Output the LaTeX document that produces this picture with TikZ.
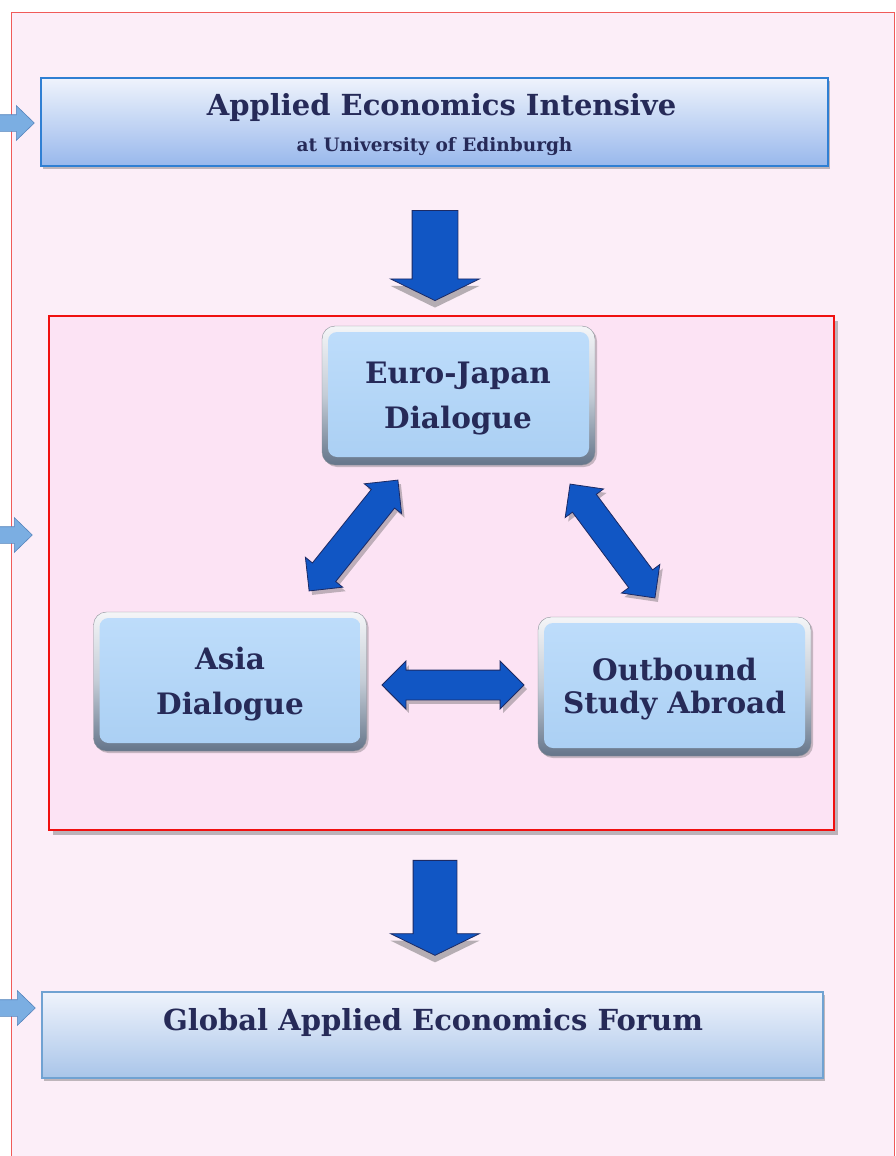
\documentclass[tikz,border=0pt]{standalone}
\usepackage{fontspec}
\setmainfont{DejaVu Serif}
\usetikzlibrary{shapes.arrows,shadows}
\definecolor{outerbg}{HTML}{FCEEF8}
\definecolor{outerln}{HTML}{F05A5A}
\definecolor{innerbg}{HTML}{FCE3F4}
\definecolor{innerln}{HTML}{F01010}
\definecolor{txt}{HTML}{262A58}
\definecolor{abl}{HTML}{1156C4}
\definecolor{adk}{HTML}{1C2A64}
\definecolor{sbl}{HTML}{7BAEE2}
\definecolor{sdk}{HTML}{5584BC}
\definecolor{tboxln}{HTML}{2F7FD3}
\definecolor{gtop}{HTML}{EFF3FC}
\definecolor{gbot}{HTML}{98B8EC}
\definecolor{bboxln}{HTML}{70A2D2}
\definecolor{gbottwo}{HTML}{A9C5E9}
\definecolor{facetop}{HTML}{BEDDFB}
\definecolor{facebot}{HTML}{AACFF3}
\definecolor{bevtop}{HTML}{F4F5F7}
\definecolor{bevmid}{HTML}{C3CCD6}
\definecolor{bevbot}{HTML}{65758A}
\begin{document}
\begin{tikzpicture}[x=1pt,y=-1pt,
  bigtxt/.style={text=txt, font=\bfseries\fontsize{29}{34}\selectfont, anchor=base, inner sep=0pt},
  smalltxt/.style={text=txt, font=\bfseries\fontsize{18.5}{22}\selectfont, anchor=base, inner sep=0pt},
  boxtxt/.style={text=txt, font=\bfseries\fontsize{29.5}{34}\selectfont, anchor=base, inner sep=0pt},
  tbox/.style={draw=tboxln, line width=2.2pt, top color=gtop, bottom color=gbot,
    inner sep=0pt, drop shadow={shadow xshift=2pt, shadow yshift=-3pt, opacity=.35, fill=black!70}},
  bbox/.style={draw=bboxln, line width=2pt, top color=gtop, bottom color=gbottwo,
    inner sep=0pt, drop shadow={shadow xshift=2pt, shadow yshift=-3pt, opacity=.35, fill=black!70}},
  bev/.style={rounded corners=13pt, minimum width=273pt, minimum height=139pt, inner sep=0pt,
    top color=bevtop, bottom color=bevbot, middle color=bevmid, draw=bevmid!70!black, line width=0.4pt,
    drop shadow={shadow xshift=2pt, shadow yshift=-2pt, opacity=.3, fill=black!70},
    path picture={\shade[top color=facetop, bottom color=facebot, rounded corners=9pt]
      ([shift={(6pt,-6pt)}]path picture bounding box.north west) rectangle
      ([shift={(-6pt,8pt)}]path picture bounding box.south east);}},
  smallarr/.style={single arrow, fill=sbl, draw=sdk, line width=0.6pt, inner sep=0pt,
    text height=8pt, text depth=8pt, text width=0pt,
    minimum width=34pt, single arrow head extend=9pt, single arrow tip angle=88, minimum height=40pt},
  downarr/.style={single arrow, fill=abl, draw=adk, line width=0.8pt, inner sep=0pt, rotate=-90,
    text height=22.5pt, text depth=22.5pt, text width=0pt,
    minimum width=88pt, single arrow head extend=21.5pt, single arrow tip angle=128,
    drop shadow={shadow xshift=0pt, shadow yshift=-7pt, opacity=.4, fill=black!70}},
  dblarr/.style={double arrow, fill=abl, draw=adk, line width=0.8pt, inner sep=0pt,
    text height=14.5pt, text depth=14.5pt, text width=0pt,
    minimum width=47pt, double arrow head extend=9pt, double arrow tip angle=90, minimum height=142pt,
    drop shadow={shadow xshift=3pt, shadow yshift=-4pt, opacity=.35, fill=black!70}}
]
\useasboundingbox (0,0) rectangle (895,1156);
% outer frame
\fill[outerbg] (11,12) rectangle (894,1160);
\draw[outerln, line width=0.9pt] (11,1160) -- (11,12) -- (894,12) -- (894,1160);
% left side arrows
\node[smallarr] (la1) at (10,123) {};
\node[smallarr] (la2) at (8,535) {};
\node[smallarr] (la3) at (11,1008) {};
% top box
\node[tbox, minimum width=787pt, minimum height=88pt] (aei) at (434.5,122) {};
\node[bigtxt] (aeit) at (441.5,115) {Applied Economics Intensive};
\node[smalltxt] (aeis) at (434.5,151) {at University of Edinburgh};
% first down arrow
\node[downarr, minimum height=90pt] (d1) at (435,250) {};
% inner frame
\fill[black, opacity=.25] (53,321) rectangle (838,835);
\draw[innerln, line width=1.8pt, fill=innerbg] (49,316) rectangle (834,830);
% three dialogue boxes
\node[bev] (ej) at (458.5,395.5) {};
\node[boxtxt] at (458,383) {Euro-Japan};
\node[boxtxt] at (458,428) {Dialogue};
\node[bev] (as) at (230,681.5) {};
\node[boxtxt] at (230,669) {Asia};
\node[boxtxt] at (230,714) {Dialogue};
\node[bev] (ob) at (674.5,686.5) {};
\node[boxtxt] at (674.5,680) {Outbound};
\node[boxtxt] at (674.5,713) {Study Abroad};
% double arrows
\node[dblarr, rotate=51.3] (ea) at (353.5,535.5) {};
\node[dblarr, rotate=-53.3] (eo) at (612.5,541) {};
\node[dblarr] (ao) at (453,685) {};
% second down arrow
\node[downarr, minimum height=95pt, text height=21.5pt, text depth=21.5pt, single arrow head extend=22.5pt] (d2) at (435,902.5) {};
% bottom box
\node[bbox, minimum width=781pt, minimum height=86pt] (gaef) at (432.5,1035) {};
\node[bigtxt] (gaeft) at (433,1030) {Global Applied Economics Forum};
\end{tikzpicture}
\end{document}
